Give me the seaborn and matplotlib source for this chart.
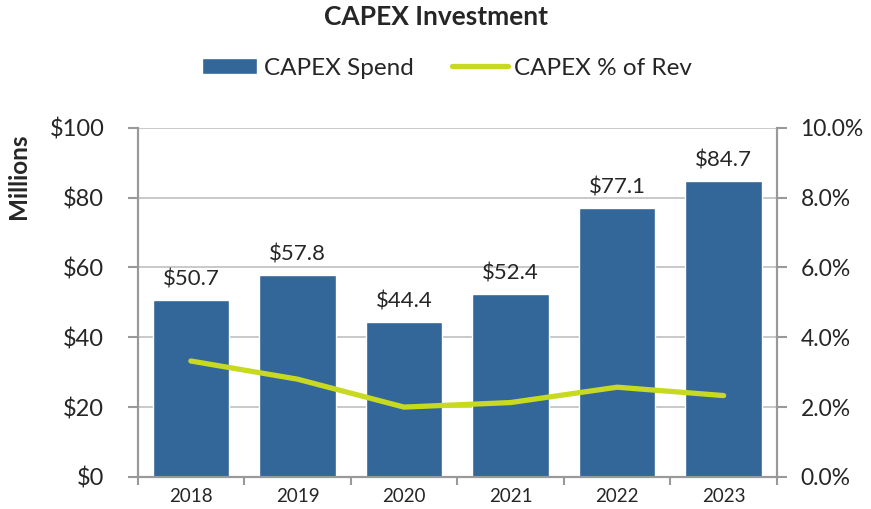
import seaborn as sns
import matplotlib.pyplot as plt
import matplotlib.ticker as mticker
import numpy as np

sns.set_style("white")
plt.rcParams['font.family'] = ['Lato', 'DejaVu Sans']

# data
years = ["2018", "2019", "2020", "2021", "2022", "2023"]
capex_spend = [50.7, 57.8, 44.4, 52.4, 77.1, 84.7]          # $ millions
capex_pct_rev = [3.32, 2.80, 2.00, 2.13, 2.57, 2.33]         # % of revenue

bar_color = "#336699"
line_color = "#c8d921"
axis_gray = "#999999"

fig = plt.figure(figsize=(8.71, 5.09), dpi=100)
ax = fig.add_axes([0.158, 0.063, 0.734, 0.686])

sns.barplot(x=years, y=capex_spend, color=bar_color, width=0.72,
            saturation=1, ax=ax, zorder=2, label="CAPEX Spend")
ax.set_ylim(0, 100)
ax.set_xlim(-0.5, len(years) - 0.5)
ax.yaxis.set_major_locator(mticker.MultipleLocator(20))
ax.yaxis.set_major_formatter(mticker.FuncFormatter(lambda v, p: f"${v:.0f}"))
ax.grid(axis="y", color="#c0c0c0", linewidth=1.2, zorder=0)
ax.set_axisbelow(True)

# value labels above bars
for i, v in enumerate(capex_spend):
    ax.text(i, v + 3, f"${v:.1f}", ha="center", va="bottom", fontsize=16)

# secondary axis: % of revenue
ax2 = ax.twinx()
sns.lineplot(x=np.arange(len(years)), y=capex_pct_rev, color=line_color,
             linewidth=3.8, ax=ax2, label="CAPEX % of Rev", legend=False,
             solid_capstyle="round", zorder=3)
ax2.set_ylim(0, 10)
ax2.yaxis.set_major_locator(mticker.MultipleLocator(2))
ax2.yaxis.set_major_formatter(mticker.FuncFormatter(lambda v, p: f"{v:.1f}%"))
ax2.set_xlim(-0.5, len(years) - 0.5)

# spines and ticks
for a in (ax, ax2):
    a.spines["top"].set_visible(False)
    for s in ("left", "right", "bottom"):
        a.spines[s].set_color(axis_gray)
        a.spines[s].set_linewidth(1.5)
ax.tick_params(axis="y", direction="out", length=7, width=1.5, color=axis_gray,
               labelsize=17, pad=17, left=True)
ax2.tick_params(axis="y", direction="out", length=7, width=1.5, color=axis_gray,
                labelsize=16.5, pad=10, right=True)
ax.set_xticks(np.arange(len(years)))
ax.set_xticklabels(years)
ax.set_xticks(np.arange(len(years) + 1) - 0.5, minor=True)
ax.tick_params(axis="x", which="major", length=0, labelsize=13.5, pad=8)
ax.tick_params(axis="x", which="minor", direction="out", length=6, width=1.5,
               color=axis_gray, bottom=True)

ax.set_xlabel("")
ax.set_ylabel("Millions", fontsize=17.5, fontweight="bold")
ax.yaxis.set_label_coords(-0.169, 0.86)
ax2.set_ylabel("")

fig.suptitle("CAPEX Investment", x=0.5, y=0.99, fontsize=19, fontweight="bold")

h1, l1 = ax.get_legend_handles_labels()
h2, l2 = ax2.get_legend_handles_labels()
if ax.get_legend():
    ax.get_legend().remove()
fig.legend(h1 + h2, l1 + l2, loc="upper center", bbox_to_anchor=(0.513, 0.93),
           ncol=2, frameon=False, fontsize=17.5, handlelength=2.3, handleheight=0.65,
           columnspacing=1.6, handletextpad=0.25)

plt.savefig("out.png", dpi=100)
plt.close()
